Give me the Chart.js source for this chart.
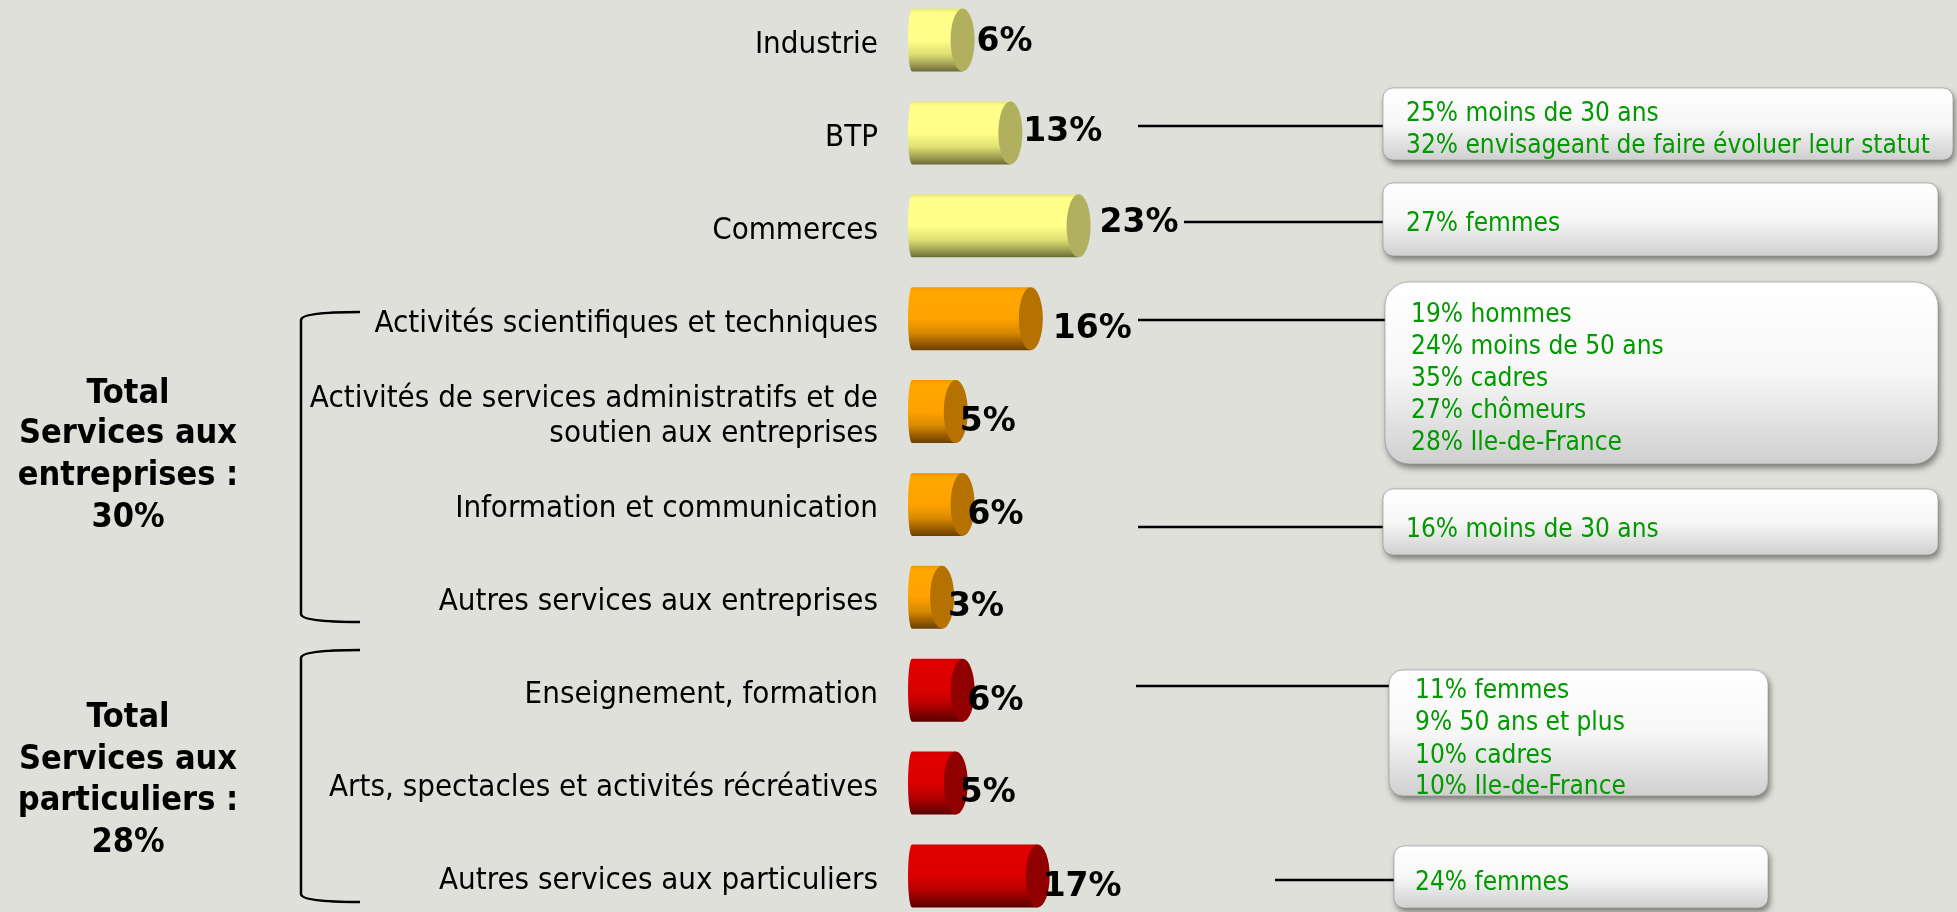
<!DOCTYPE html>
<html>
<head>
<meta charset="utf-8">
<script src="https://cdn.jsdelivr.net/npm/chart.js@4"></script>
<style>
  html, body { margin: 0; padding: 0; background: #dfe0da; }
  #wrap { width: 1957px; height: 912px; }
</style>
</head>
<body>
<div id="wrap"><canvas id="sectorChart" width="1957" height="912"></canvas></div>
<script>
// data
let sectors = [
    "Industrie",
    "BTP",
    "Commerces",
    "Activités scientifiques et techniques",
    ["Activités de services administratifs et de", "soutien aux entreprises"],
    "Information et communication",
    "Autres services aux entreprises",
    "Enseignement, formation",
    "Arts, spectacles et activités récréatives",
    "Autres services aux particuliers"
];
let shares = [6, 13, 23, 16, 5, 6, 3, 6, 5, 17];
let sectorGroup = ["prod", "prod", "prod", "ent", "ent", "ent", "ent", "part", "part", "part"];

let groupTitles = [
    ["Total", "Services aux", "entreprises :", "30%"],
    ["Total", "Services aux", "particuliers :", "28%"]
];

let calloutSector = [1, 2, 3, 5, 7, 9];
let calloutLines = [
    ["25% moins de 30 ans", "32% envisageant de faire évoluer leur statut"],
    ["27% femmes"],
    ["19% hommes", "24% moins de 50 ans", "35% cadres", "27% chômeurs", "28% Ile-de-France"],
    ["16% moins de 30 ans"],
    ["11% femmes", "9% 50 ans et plus", "10% cadres", "10% Ile-de-France"],
    ["24% femmes"]
];

// styling / layout
const FONT = '"DejaVu Sans Condensed", "DejaVu Sans", sans-serif';
const palettes = {
    prod: { cap: "#b0b05e", body: [[0, "#e6e676"], [0.07, "#ffff8a"], [0.5, "#ffff8a"], [0.72, "#e0e074"], [0.9, "#9a9a50"], [1, "#6a6a38"]] },
    ent:  { cap: "#b57200", body: [[0, "#f09a00"], [0.07, "#ffa600"], [0.5, "#ffa200"], [0.72, "#d88a00"], [0.9, "#935800"], [1, "#6a4000"]] },
    part: { cap: "#900000", body: [[0, "#d00000"], [0.07, "#e00000"], [0.5, "#dc0000"], [0.72, "#b80000"], [0.9, "#7c0000"], [1, "#5a0000"]] }
};
// [dx, dy] nudges for the percentage labels
let labelNudge = [[2, 2], [1, 0], [9, -2], [10, 11], [-8, 11], [-7, 11], [-6, 10], [-7, 11], [-8, 10], [-7, 11]];

let calloutBoxes = [
    { x: 1383, y: 88, w: 570, h: 72, r: 10, tx: 1406, lineY: [114, 146], from: 1138, wireY: 126 },
    { x: 1383, y: 183, w: 555, h: 73, r: 10, tx: 1406, lineY: [224], from: 1184, wireY: 222 },
    { x: 1385, y: 282, w: 553, h: 182, r: 24, tx: 1411, lineY: [315, 347, 379, 411, 443], from: 1138, wireY: 320 },
    { x: 1383, y: 489, w: 555, h: 66, r: 10, tx: 1406, lineY: [530], from: 1138, wireY: 527 },
    { x: 1389, y: 670, w: 379, h: 126, r: 14, tx: 1415, lineY: [691, 723, 756, 787], from: 1136, wireY: 686 },
    { x: 1394, y: 846, w: 374, h: 62, r: 10, tx: 1415, lineY: [883], from: 1275, wireY: 880 }
];
let braces = [{ x: 301, top: 312, bottom: 622, end: 360 }, { x: 301, top: 650, bottom: 902, end: 360 }];
let titleBaselines = [[403, 443, 485, 527], [727, 769, 810, 852]];

const cylinderPlugin = {
    id: "cylinders",
    afterDatasetsDraw(chart) {
        const ctx = chart.ctx;
        const meta = chart.getDatasetMeta(0);
        meta.data.forEach((bar, i) => {
            const pal = palettes[sectorGroup[i]];
            const h = bar.height;
            const top = bar.y - h / 2, bot = bar.y + h / 2;
            const left = bar.base, right = bar.x;
            const rx = 12, lx = 4;
            const g = ctx.createLinearGradient(0, top, 0, bot);
            pal.body.forEach(s => g.addColorStop(s[0], s[1]));
            ctx.save();
            ctx.beginPath();
            ctx.moveTo(right, top);
            ctx.lineTo(left + lx, top);
            ctx.ellipse(left + lx, bar.y, lx, h / 2, 0, -Math.PI / 2, Math.PI / 2, true);
            ctx.lineTo(right, bot);
            ctx.closePath();
            ctx.fillStyle = g;
            ctx.fill();
            ctx.beginPath();
            ctx.ellipse(right, bar.y, rx, h / 2, 0, 0, Math.PI * 2);
            ctx.fillStyle = pal.cap;
            ctx.fill();

            ctx.fillStyle = "#000";
            ctx.font = 'bold 33px "DejaVu Sans", sans-serif';
            ctx.textAlign = "left";
            ctx.textBaseline = "middle";
            ctx.fillText(shares[i] + "%", right + rx + labelNudge[i][0], bar.y + labelNudge[i][1]);
            ctx.restore();
        });
    }
};

function roundedBox(ctx, x, y, w, h, r) {
    ctx.beginPath();
    ctx.moveTo(x + r, y);
    ctx.arcTo(x + w, y, x + w, y + h, r);
    ctx.arcTo(x + w, y + h, x, y + h, r);
    ctx.arcTo(x, y + h, x, y, r);
    ctx.arcTo(x, y, x + w, y, r);
    ctx.closePath();
}

const notesPlugin = {
    id: "notes",
    afterDraw(chart) {
        const ctx = chart.ctx;
        ctx.save();

        // group braces and titles
        ctx.strokeStyle = "#000";
        ctx.lineWidth = 2.5;
        braces.forEach(b => {
            ctx.beginPath();
            ctx.moveTo(b.end, b.top);
            ctx.quadraticCurveTo(b.x, b.top, b.x, b.top + 8);
            ctx.lineTo(b.x, b.bottom - 8);
            ctx.quadraticCurveTo(b.x, b.bottom, b.end, b.bottom);
            ctx.stroke();
        });
        ctx.fillStyle = "#000";
        ctx.font = 'bold 34px ' + FONT;
        ctx.textAlign = "center";
        ctx.textBaseline = "alphabetic";
        groupTitles.forEach((lines, g) => {
            lines.forEach((t, k) => ctx.fillText(t, 128, titleBaselines[g][k]));
        });

        // callouts
        calloutBoxes.forEach((b, n) => {
            ctx.strokeStyle = "#000";
            ctx.lineWidth = 2.5;
            ctx.beginPath();
            ctx.moveTo(b.from, b.wireY);
            ctx.lineTo(b.x + 2, b.wireY);
            ctx.stroke();

            ctx.save();
            ctx.shadowColor = "rgba(0,0,0,0.45)";
            ctx.shadowBlur = 6;
            ctx.shadowOffsetX = 2;
            ctx.shadowOffsetY = 4;
            roundedBox(ctx, b.x, b.y, b.w, b.h, b.r);
            const g = ctx.createLinearGradient(0, b.y, 0, b.y + b.h);
            g.addColorStop(0, "#ffffff");
            g.addColorStop(0.5, "#f7f7f7");
            g.addColorStop(1, "#cfcfcf");
            ctx.fillStyle = g;
            ctx.fill();
            ctx.restore();
            roundedBox(ctx, b.x, b.y, b.w, b.h, b.r);
            ctx.strokeStyle = "rgba(140,140,140,0.6)";
            ctx.lineWidth = 1;
            ctx.stroke();

            ctx.fillStyle = "#009900";
            ctx.font = '26px ' + FONT;
            ctx.textAlign = "left";
            ctx.textBaseline = "middle";
            calloutLines[n].forEach((t, k) => ctx.fillText(t, b.tx, b.lineY[k]));
        });
        ctx.restore();
    }
};

let ctx1 = document.getElementById("sectorChart").getContext("2d");
let sectorChart = new Chart(ctx1, {
    type: "bar",
    data: {
        labels: sectors,
        datasets: [{
            data: shares,
            backgroundColor: "rgba(0,0,0,0)",
            borderWidth: 0,
            barThickness: 63,
            base: -2,
            clip: false
        }]
    },
    options: {
        indexAxis: "y",
        responsive: false,
        maintainAspectRatio: false,
        animation: false,
        layout: { padding: { top: 40, bottom: 36, right: 353, left: 0 } },
        plugins: { legend: { display: false }, tooltip: { enabled: false } },
        scales: {
            x: { display: false, min: -2, max: 100 },
            y: {
                offset: false,
                grid: { display: false, drawTicks: false },
                border: { display: false },
                afterFit(scale) {
                    scale.width = 908;
                    scale.paddingTop = 0;
                    scale.paddingBottom = 0;
                },
                ticks: {
                    color: "#000",
                    padding: 30,
                    labelOffset: 5,
                    font: { family: FONT, size: 31, lineHeight: 1.13 }
                }
            }
        }
    },
    plugins: [cylinderPlugin, notesPlugin]
});
</script>
</body>
</html>
